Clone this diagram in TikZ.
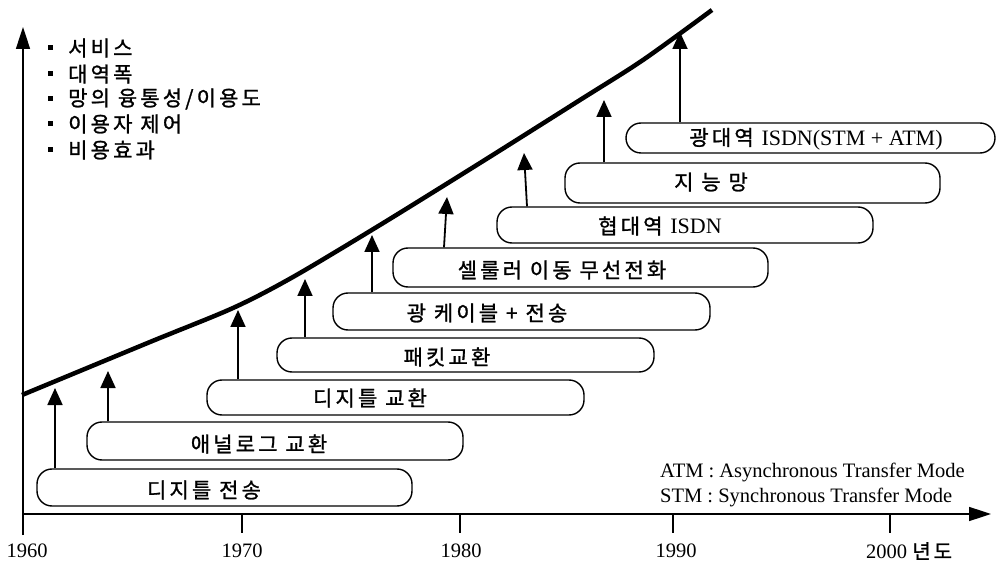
\documentclass[tikz,border=0pt]{standalone}
\usepackage{fontspec}
\setmainfont{Liberation Serif}
\newfontfamily\kr[LetterSpace=15,FakeBold=1.2]{Noto Sans CJK KR}
\usetikzlibrary{arrows.meta}
\begin{document}
\begin{tikzpicture}[x=1pt,y=-1pt,
  bx/.style={draw, line width=1.4pt, rounded corners=15pt, inner sep=0pt},
  kt/.style={font=\kr\fontsize{21}{24}\selectfont, inner sep=0pt},
  et/.style={font=\fontsize{20.5}{24}\selectfont, inner sep=0pt},
  arr/.style={line width=1.8pt, -{Triangle[length=17pt,width=15pt]}},
  axarr/.style={line width=1.6pt, -{Triangle[length=22pt,width=14pt]}},
  bul/.style={fill, minimum size=5pt, inner sep=0pt},
  tick/.style={line width=1.5pt}]
\useasboundingbox (0,0) rectangle (997,564);

% axes
\coordinate (ybot) at (23,535);
\coordinate (ytip) at (23,27);
\coordinate (o) at (23,514);
\coordinate (xtip) at (991,514);
\draw[axarr] (ybot) -- (ytip);
\draw[axarr] (o) -- (xtip);
\foreach \x/\n in {242/t70,460/t80,673/t90,890/t00}{
  \coordinate (\n) at (\x,514);
  \draw[tick] (\n) -- ++(0,19);
}
\node[et] (y60) at (27,551) {1960};
\node[et] (y70) at (242,551) {1970};
\node[et] (y80) at (461,551) {1980};
\node[et] (y90) at (676,551) {1990};
\node[et, anchor=west] (y00) at (866,551) {2000 {\kr\fontsize{20}{23}\selectfont 년도}};

% growth curve
\draw[line width=4.5pt] plot[smooth, tension=0.5] coordinates
  {(22,395) (150,342) (233,308) (293,277) (380,225) (480,163) (580,100) (643,60) (712,10)};

% legend
\foreach \i/\y/\t in {1/48/{서비스}, 2/74/{대역폭}, 3/99/{망의 융통성/이용도}, 4/124/{이용자 제어}, 5/150/{비용효과}}{
  \node[bul] (q\i) at (50,\y) {};
  \node[kt, anchor=west] (l\i) at (68,\y) {\t};
}

% boxes
\node[bx, minimum width=375pt, minimum height=37pt] (b1) at (224.5,487.5) {};
\node[bx, minimum width=376pt, minimum height=38pt] (b2) at (275,441) {};
\node[bx, minimum width=377pt, minimum height=35pt] (b3) at (395.5,397.5) {};
\node[bx, minimum width=377pt, minimum height=34pt] (b4) at (465.5,355) {};
\node[bx, minimum width=377pt, minimum height=37pt] (b5) at (521.5,311.5) {};
\node[bx, minimum width=375pt, minimum height=39pt] (b6) at (580.5,267.5) {};
\node[bx, minimum width=376pt, minimum height=36pt] (b7) at (685,225) {};
\node[bx, minimum width=375pt, minimum height=40pt] (b8) at (752.5,183) {};
\node[bx, minimum width=369pt, minimum height=30pt] (b9) at (810.5,138) {};

% box labels
\node[kt] (k1) at (204,490) {디지틀 전송};
\node[kt] (k2) at (259,444) {애널로그 교환};
\node[kt] (k3) at (370,398) {디지틀 교환};
\node[kt] (k4) at (447,357) {패킷교환};
\node[kt] (k5) at (487,313) {광 케이블 + 전송};
\node[kt] (k6) at (562,270) {셀룰러 이동 무선전화};
\node[kt] (k7) at (660,226) {협대역 {\rmfamily\fontsize{22}{25}\selectfont ISDN}};
\node[kt] (k8) at (711,182) {지 능 망};
\node[kt] (k9) at (816,139) {광대역 {\rmfamily\fontsize{22}{25}\selectfont ISDN(STM + ATM)}};

% arrows
\coordinate (a1) at (55,388);
\coordinate (a2) at (108,371);
\coordinate (a3) at (238,310);
\coordinate (a4) at (305,279);
\coordinate (a5) at (372,235);
\coordinate (a6) at (447,197);
\coordinate (a7) at (524,153);
\coordinate (a8) at (604,100);
\coordinate (a9) at (680,32);
\draw[arr] (b1.north -| a1) -- (a1);
\draw[arr] (b2.north -| a2) -- (a2);
\draw[arr] (b3.north -| a3) -- (a3);
\draw[arr] (b4.north -| a4) -- (a4);
\draw[arr] (b5.north -| a5) -- (a5);
\draw[arr] ([xshift=-3pt]b6.north -| a6) -- (a6);
\draw[arr] ([xshift=3pt]b7.north -| a7) -- (a7);
\draw[arr] (b8.north -| a8) -- (a8);
\draw[arr] (b9.north -| a9) -- (a9);

% note
\node[et, anchor=west] (n1) at (660,472) {ATM : Asynchronous Transfer Mode};
\node[et, anchor=west] (n2) at (660,497) {STM : Synchronous Transfer Mode};
\end{tikzpicture}
\end{document}
